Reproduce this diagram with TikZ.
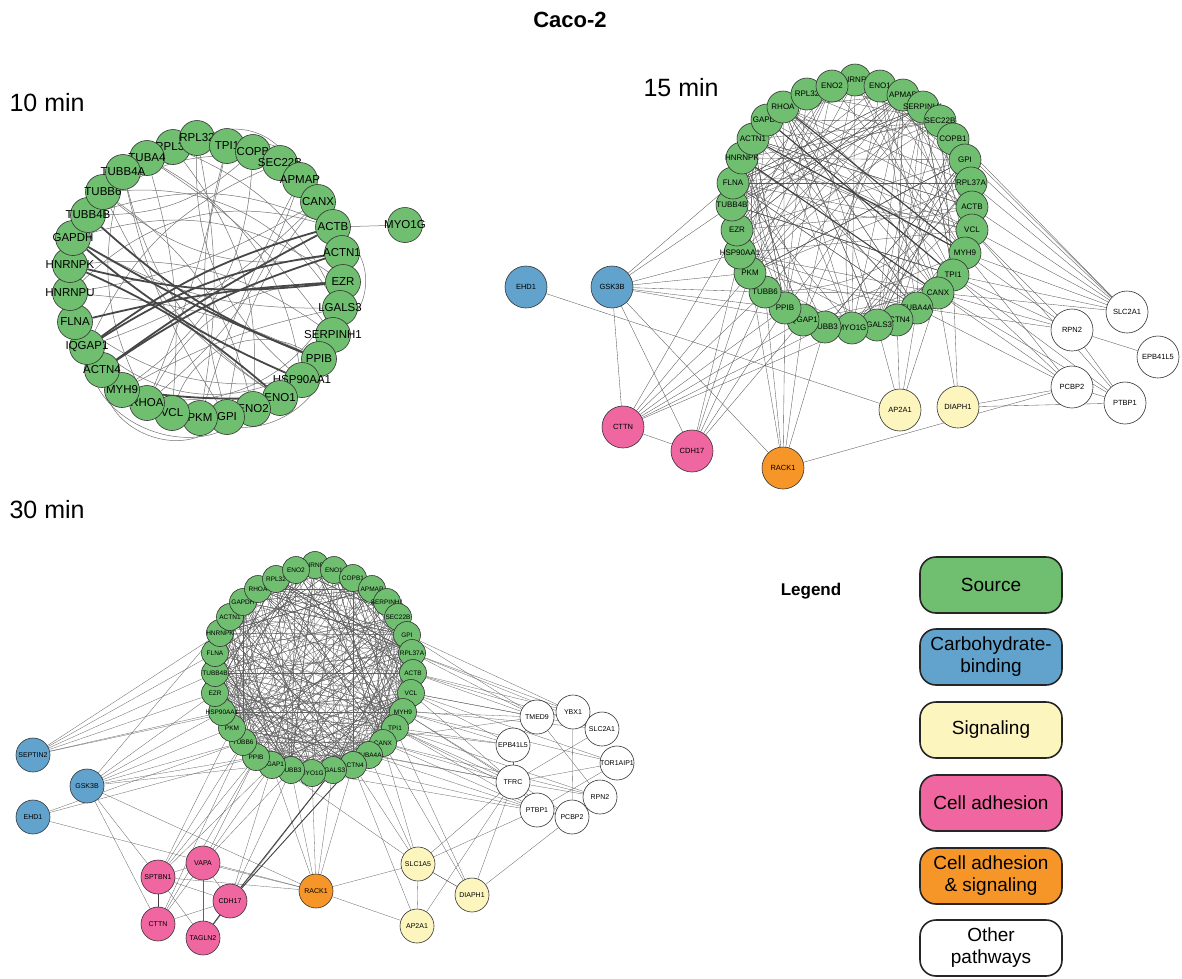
\documentclass[tikz,border=0pt]{standalone}
\usepackage{fontspec}
\setmainfont{Liberation Sans}
\pgfdeclarelayer{bg}
\pgfsetlayers{bg,main}
\definecolor{cgreen}{RGB}{112,190,112}
\definecolor{cblue}{RGB}{98,163,205}
\definecolor{cyellow}{RGB}{253,245,190}
\definecolor{cpink}{RGB}{240,102,160}
\definecolor{corange}{RGB}{247,150,40}
\newcommand{\zb}[1]{\makebox[0pt]{#1}}
\begin{document}
\begin{tikzpicture}[x=1pt,y=-1pt,
 nd/.style={circle,draw=black!80,line width=0.6pt,inner sep=0pt},
 g10/.style={nd,fill=cgreen,minimum size=35pt,font=\fontsize{11.5}{12}\selectfont},
 g15/.style={nd,fill=cgreen,minimum size=32pt,font=\fontsize{8}{9}\selectfont},
 o15/.style={nd,minimum size=42pt,font=\fontsize{7.5}{9}\selectfont},
 g30/.style={nd,fill=cgreen,minimum size=27pt,font=\fontsize{6.5}{7}\selectfont},
 o30/.style={nd,minimum size=34pt,font=\fontsize{7}{8}\selectfont},
 e10/.style={draw=black!55,line width=0.5pt},
 e10t/.style={draw=black!72,line width=1.8pt},
 e15/.style={draw=black!65,line width=0.35pt},
 e30/.style={draw=black!62,line width=0.3pt},
 lg/.style={draw=black!85,line width=1.6pt,rounded corners=16pt,minimum width=142pt,minimum height=56pt,align=center,font=\fontsize{19}{22}\selectfont},
 ttl/.style={font=\fontsize{25}{28}\selectfont,anchor=west},
]
\begin{pgfonlayer}{bg}
\fill[white] (0,0) rectangle (1182,978);
\end{pgfonlayer}
\useasboundingbox (0,0) rectangle (1182,978);

% titles
\node[font=\bfseries\fontsize{22}{26}\selectfont] (title) at (570,20) {Caco-2};
\node[ttl] (t10) at (6,103) {10 min};
\node[ttl] (t15) at (640,88) {15 min};
\node[ttl] (t30) at (6,510) {30 min};

% ---------- 10 min ----------
\foreach \n/\x/\y/\lab in {a31/173/147/RPL37,a1/197/138/RPL32,a2/227/146/TPI1,a3/253/152/COPB,a4/280/163/SEC22B,a5/300/180/APMAP,a6/318/202/CANX,a7/333/227/ACTB,a8/342/253/ACTN1,a9/343/282/EZR,a10/340/308/LGALS3,a11/333/335/SERPINH1,a12/319/359/PPIB,a13/302/380/HSP90AA1,a14/280/398/ENO1,a15/253/409/ENO2,a16/227/417/GPI,a17/200/418/PKM,a18/172/413/VCL,a19/147/403/RHOA,a20/122/390/MYH9,a21/102/370/ACTN4,a22/87/347/IQGAP1,a23/75/322/FLNA,a24/70/293/HNRNPU,a25/70/265/HNRNPK,a26/73/238/GAPDH,a27/88/215/TUBB4B,a28/103/192/TUBB6,a30/147/158/TUBA4,a29/123/172/TUBB4A}
  {\node[g10] (\n) at (\x,\y) {\zb{\lab}};}
\node[g10] (m10) at (405,225) {\zb{MYO1G}};

\begin{pgfonlayer}{bg}
\draw[e10] (a7) -- (m10);
\foreach \a/\b/\c in {a1/a17/10,a2/a16/-15,a31/a15/20,a30/a18/10,a29/a19/-20,a28/a10/30,a3/a20/25,a4/a22/-20,a5/a19/15,a6/a24/10,a7/a24/-30,a8/a28/25,a9/a20/40,a10/a26/15,a11/a25/-20,a12/a23/40,a13/a30/-25,a14/a29/20,a15/a22/60,a16/a21/60,a17/a11/-50,a18/a12/50,a19/a9/30,a1/a13/-25,a2/a6/40,a3/a27/20,a4/a26/-30,a31/a10/20,a30/a11/10,a29/a16/-10,a28/a15/20,a27/a7/20,a5/a14/40,a6/a16/-15,a24/a12/10,a23/a13/-20,a1/a5/40,a7/a11/50,a2/a19/5,a5/a17/-5,a28/a14/-15,a20/a10/8,a22/a6/-12,a26/a9/25}
  {\draw[e10] (\a) to[bend left=\c] (\b);}
\foreach \a/\b/\c in {a26/a13/-8,a27/a12/-10,a25/a14/8,a26/a12/-4,a22/a7/10,a21/a8/8,a23/a9/5,a22/a8/12,a25/a9/-10,a20/a14/-4,a21/a7/4}
  {\draw[e10t] (\a) to[bend left=\c] (\b);}
\end{pgfonlayer}

% ---------- 15 min ----------
\foreach \n/\x/\y/\lab in {b1/855/80/HNRNPU,b2/880/86/ENO1,b3/903/95/APMAP,b4/923/107/SERPINH1,b5/940/121/SEC22B,b6/953/139/COPB1,b7/965/160/GPI,b8/971/183/RPL37A,b9/972/207/ACTB,b10/972/230/VCL,b11/965/253/MYH9,b12/953/275/TPI1,b13/938/293/CANX,b14/917/308/TUBA4A,b15/897/320/ACTN4,b16/877/325/LGALS3,b17/852/328/MYO1G,b18/825/327/TUBB3,b19/803/320/IQGAP1,b20/785/308/PPIB,b21/765/292/TUBB6,b22/750/273/PKM,b23/740/253/HSP90AA1,b24/737/230/EZR,b25/732/205/TUBB4B,b26/733/183/FLNA,b27/742/158/HNRNPK,b28/753/139/ACTN1,b29/767/120/GAPDH,b30/783/107/RHOA,b31/807/94/RPL32,b32/832/86/ENO2}
  {\node[g15] (\n) at (\x,\y) {\zb{\lab}};}
\node[o15,fill=cblue] (eh15) at (526,287) {EHD1};
\node[o15,fill=cblue] (gs15) at (612,287) {GSK3B};
\node[o15,fill=cpink] (ct15) at (623,427) {CTTN};
\node[o15,fill=cpink] (cd15) at (692,451) {CDH17};
\node[o15,fill=corange] (ra15) at (783,468) {RACK1};
\node[o15,fill=cyellow] (ap15) at (900,410) {AP2A1};
\node[o15,fill=cyellow] (di15) at (958,407) {DIAPH1};
\node[o15,fill=white] (sl15) at (1127,312) {SLC2A1};
\node[o15,fill=white] (rp15) at (1072,330) {RPN2};
\node[o15,fill=white] (ep15) at (1158,357) {\zb{EPB41L5}};
\node[o15,fill=white] (pc15) at (1072,387) {PCBP2};
\node[o15,fill=white] (pt15) at (1125,403) {PTBP1};

\begin{pgfonlayer}{bg}
\pgfmathsetseed{7}
\foreach \i in {1,...,190}{\pgfmathrandominteger{\p}{1}{32}\pgfmathrandominteger{\q}{1}{32}\ifnum\p=\q\else\draw[e15] (b\p) -- (b\q);\fi}
\foreach \a/\b/\c in {b2/b20/15,b5/b24/-20,b9/b27/25,b13/b30/-15,b17/b3/20,b21/b8/-25,b26/b12/30,b28/b10/-10,b30/b13/8,b29/b14/-6,b27/b11/6}
  {\draw[e15] (\a) to[bend left=\c] (\b);}
\foreach \a/\b in {b29/b12,b28/b11,b27/b13,b30/b11}
  {\draw[e15,draw=black!75,line width=1.1pt] (\a) -- (\b);}
\foreach \a/\b in {eh15/ap15,gs15/b23,gs15/b22,gs15/b21,gs15/b20,gs15/b25,gs15/b26,gs15/ct15,gs15/cd15,gs15/ra15,gs15/b19,
  ct15/b22,ct15/b21,ct15/b20,ct15/b19,ct15/b18,ct15/b17,ct15/b24,ct15/cd15,
  cd15/b22,cd15/b21,cd15/b20,cd15/b23,cd15/b19,
  ra15/b20,ra15/b19,ra15/b18,ra15/b21,ra15/b22,ra15/pc15,
  ap15/b14,ap15/b15,ap15/b13,ap15/b16,
  di15/b13,di15/b12,di15/pc15,di15/pt15,
  sl15/b9,sl15/b8,sl15/b7,sl15/b10,sl15/b11,sl15/b12,sl15/b13,sl15/b6,sl15/b5,
  rp15/b12,rp15/b13,rp15/b11,rp15/b14,rp15/ep15,rp15/pt15,rp15/b10,
  pc15/b12,pc15/b13,pc15/b14,pc15/b11,pc15/pt15,
  pt15/b12,pt15/b13,pt15/b10}
  {\draw[e15] (\a) -- (\b);}
\end{pgfonlayer}

% ---------- 30 min ----------
\foreach \n/\x/\y/\lab in {d1/315/565/HNRNPU,d2/334/570/ENO1,d3/353/578/COPB1,d4/372/589/APMAP,d5/387/602/SERPINH1,d6/398/617/SEC22B,d7/407/635/GPI,d8/412/653/RPL37A,d9/413/673/ACTB,d10/411/693/VCL,d11/403/712/MYH9,d12/395/728/TPI1,d13/383/743/CANX,d14/369/755/TUBA4A,d15/353/765/ACTN4,d16/333/770/LGALS3,d17/312/773/MYO1G,d18/291/770/TUBB3,d19/272/765/IQGAP1,d20/256/757/PPIB,d21/243/742/TUBB6,d22/232/728/PKM,d23/222/712/HSP90AA1,d24/215/693/EZR,d25/215/673/TUBB4B,d26/215/653/FLNA,d27/220/633/HNRNPK,d28/230/617/ACTN1,d29/243/602/GAPDH,d30/258/589/RHOA,d31/276/579/RPL32,d32/296/570/ENO2}
  {\node[g30] (\n) at (\x,\y) {\zb{\lab}};}
\node[o30,fill=cblue] (se30) at (33,755) {\zb{SEPTIN2}};
\node[o30,fill=cblue] (gs30) at (87,786) {GSK3B};
\node[o30,fill=cblue] (eh30) at (33,817) {EHD1};
\node[o30,fill=cpink] (sp30) at (158,877) {SPTBN1};
\node[o30,fill=cpink] (va30) at (203,863) {VAPA};
\node[o30,fill=cpink] (cd30) at (230,901) {CDH17};
\node[o30,fill=cpink] (ct30) at (158,924) {CTTN};
\node[o30,fill=cpink] (ta30) at (203,938) {TAGLN2};
\node[o30,fill=corange] (ra30) at (316,891) {RACK1};
\node[o30,fill=cyellow] (sc30) at (418,864) {SLC1A5};
\node[o30,fill=cyellow] (di30) at (472,895) {DIAPH1};
\node[o30,fill=cyellow] (ap30) at (417,926) {AP2A1};
\node[o30,fill=white] (tm30) at (537,717) {TMED9};
\node[o30,fill=white] (yb30) at (573,712) {YBX1};
\node[o30,fill=white] (sl30) at (602,729) {SLC2A1};
\node[o30,fill=white] (ep30) at (513,745) {\zb{EPB41L5}};
\node[o30,fill=white] (to30) at (617,763) {\zb{TOR1AIP1}};
\node[o30,fill=white] (tf30) at (513,782) {TFRC};
\node[o30,fill=white] (rp30) at (600,797) {RPN2};
\node[o30,fill=white] (pt30) at (537,810) {PTBP1};
\node[o30,fill=white] (pc30) at (572,817) {PCBP2};

\begin{pgfonlayer}{bg}
\pgfmathsetseed{11}
\foreach \i in {1,...,440}{\pgfmathrandominteger{\p}{1}{32}\pgfmathrandominteger{\q}{1}{32}\ifnum\p=\q\else\draw[e30] (d\p) -- (d\q);\fi}
\foreach \a/\b in {se30/d25,se30/d24,se30/d26,se30/d23,se30/d27,se30/d9,
  gs30/d21,gs30/d22,gs30/d23,gs30/d20,gs30/d19,gs30/d24,gs30/ct30,gs30/sp30,gs30/ra30,gs30/d28,
  eh30/d21,eh30/ra30,eh30/d20,
  sp30/d21,sp30/d20,sp30/d22,sp30/d19,sp30/va30,sp30/cd30,sp30/ta30,
  va30/d19,va30/d20,va30/d18,va30/cd30,va30/ta30,
  cd30/d18,cd30/d19,cd30/ct30,
  ct30/d20,ct30/d21,ct30/va30,
  ta30/va30,ta30/d16,
  ra30/d17,ra30/d18,ra30/d16,ra30/d19,ra30/d15,ra30/sc30,ra30/ap30,ra30/va30,ra30/sp30,
  sc30/d14,sc30/d13,sc30/d15,sc30/ap30,sc30/di30,sc30/tf30,sc30/pt30,
  di30/d13,di30/d12,di30/sc30,di30/pc30,di30/tf30,
  ap30/d15,ap30/tf30,
  tm30/d9,tm30/d8,tm30/d10,tm30/d11,tm30/d7,tm30/yb30,tm30/ep30,
  yb30/d8,yb30/d7,yb30/d9,yb30/pc30,yb30/sl30,
  sl30/d9,sl30/d10,sl30/d8,sl30/tf30,
  ep30/d10,ep30/d11,ep30/d12,ep30/tf30,
  to30/d10,to30/d11,to30/tf30,to30/pt30,
  tf30/d11,tf30/d12,tf30/d13,tf30/d10,tf30/d14,tf30/pt30,tf30/rp30,
  rp30/d12,rp30/d13,rp30/pc30,rp30/tm30,
  pt30/d12,pt30/d13,pt30/pc30,pt30/d14,
  pc30/d11,pc30/d12,
  d22/tf30,d21/pt30,d20/tm30,d23/ep30,d19/pc30,d24/sl30,d21/sc30}
  {\draw[e30] (\a) -- (\b);}
\foreach \a/\b in {sp30/ct30,cd30/d16,cd30/d15,ta30/cd30}
  {\draw[e30,draw=black!75,line width=0.9pt] (\a) -- (\b);}
\end{pgfonlayer}

% ---------- legend ----------
\node[font=\bfseries\fontsize{17}{20}\selectfont] (leg) at (811,591) {Legend};
\node[lg,fill=cgreen] (l1) at (991,585) {Source};
\node[lg,fill=cblue] (l2) at (991,657) {Carbohydrate-\\binding};
\node[lg,fill=cyellow] (l3) at (991,730) {Signaling};
\node[lg,fill=cpink] (l4) at (991,803) {Cell adhesion};
\node[lg,fill=corange] (l5) at (991,876) {Cell adhesion\\\& signaling};
\node[lg,fill=white] (l6) at (991,948) {Other\\pathways};
\end{tikzpicture}
\end{document}
